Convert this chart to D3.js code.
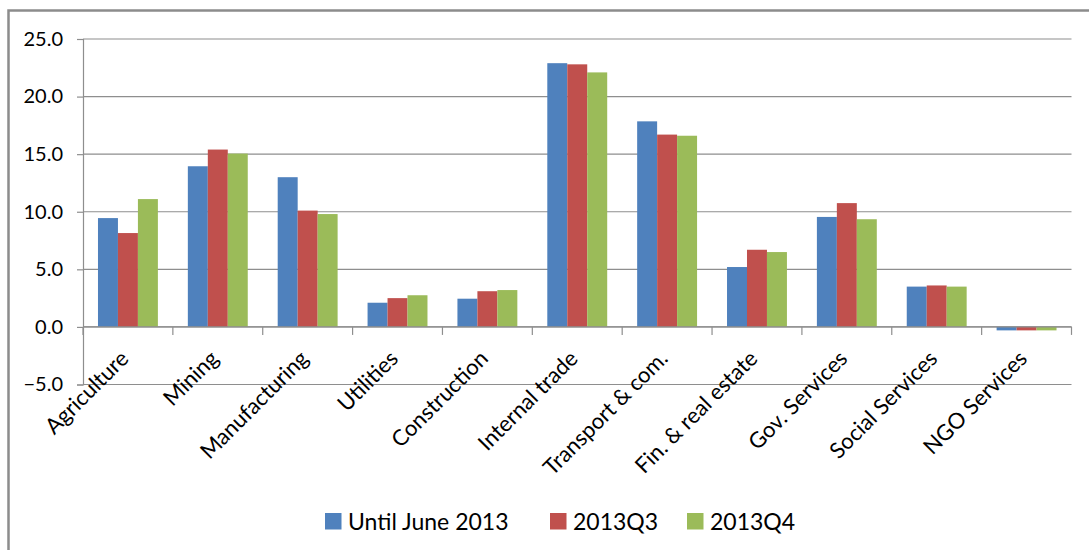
<!DOCTYPE html>
<html>
<head>
<meta charset="utf-8">
<script src="https://cdn.jsdelivr.net/npm/d3@7"></script>
<style>
  html, body { margin: 0; padding: 0; background: #fff; }
  svg { display: block; }
  text { font-family: Lato, "Open Sans", sans-serif; fill: #000; }
</style>
</head>
<body>
<svg id="chart" width="1089" height="550"></svg>
<script>
// Sector contributions by period
const categories = ["Agriculture", "Mining", "Manufacturing", "Utilities", "Construction",
  "Internal trade", "Transport & com.", "Fin. & real estate", "Gov. Services",
  "Social Services", "NGO Services"];
const seriesNames = ["Until June 2013", "2013Q3", "2013Q4"];
const untilJune2013 = [9.45, 13.95, 13.0, 2.1, 2.45, 22.9, 17.85, 5.2, 9.55, 3.5, -0.3];
const q3_2013 = [8.15, 15.4, 10.1, 2.5, 3.1, 22.8, 16.7, 6.7, 10.75, 3.6, -0.3];
const q4_2013 = [11.1, 15.05, 9.8, 2.75, 3.2, 22.1, 16.6, 6.5, 9.35, 3.5, -0.3];
const yTicks = [-5, 0, 5, 10, 15, 20, 25];
const colors = ["#4F81BD", "#C0504D", "#9BBB59"];

const seriesValues = [untilJune2013, q3_2013, q4_2013];
const rows = categories.map((c, i) => ({
  category: c,
  values: seriesNames.map((s, k) => ({ series: s, value: seriesValues[k][i] }))
}));

const svg = d3.select("#chart");
const plot = { left: 83, right: 1071.5, top: 39, bottom: 384.5 };

// Outer chart frame (runs off the right and bottom edges)
svg.append("rect")
  .attr("x", 8.5).attr("y", 10.5)
  .attr("width", 1200).attr("height", 700)
  .attr("fill", "none").attr("stroke", "#8c8c8c").attr("stroke-width", 2.5);

const x0 = d3.scaleBand().domain(categories).range([plot.left, plot.right]).padding(0);
const barW = x0.step() / 4.5;
const x1 = d3.scaleBand().domain(seriesNames).range([0.75 * barW, x0.step() - 0.75 * barW]).padding(0);
const y = d3.scaleLinear().domain([-5, 25]).range([plot.bottom, plot.top]);

// Horizontal gridlines
svg.append("g").selectAll("line").data(yTicks).join("line")
  .attr("x1", plot.left).attr("x2", plot.right)
  .attr("y1", d => y(d)).attr("y2", d => y(d))
  .attr("stroke", "#8e8e8e").attr("stroke-width", 1.2);

// Bars
svg.append("g").selectAll("g").data(rows).join("g")
  .attr("transform", d => `translate(${x0(d.category)},0)`)
  .selectAll("rect").data(d => d.values).join("rect")
  .attr("x", d => x1(d.series))
  .attr("width", x1.bandwidth())
  .attr("y", d => y(Math.max(0, d.value)))
  .attr("height", d => Math.abs(y(d.value) - y(0)))
  .attr("fill", (d, i) => colors[i]);

// Value axis
const yAxis = svg.append("g")
  .attr("transform", `translate(${plot.left},0)`)
  .call(d3.axisLeft(y).tickValues(yTicks).tickSize(6).tickPadding(14)
    .tickFormat(d3.format(".1f")));
yAxis.select(".domain").attr("stroke", "#8e8e8e").attr("stroke-width", 1.2);
yAxis.selectAll(".tick line").attr("stroke", "#8e8e8e").attr("stroke-width", 1.2);
yAxis.selectAll(".tick text").attr("font-size", 20).attr("font-family", "Lato, sans-serif").attr("fill", "#000");

// Category axis along zero
const y0 = y(0);
svg.append("line")
  .attr("x1", plot.left).attr("x2", plot.right)
  .attr("y1", y0).attr("y2", y0)
  .attr("stroke", "#8e8e8e").attr("stroke-width", 1.2);
const bounds = categories.map(c => x0(c)).concat([plot.right]);
svg.append("g").selectAll("line").data(bounds).join("line")
  .attr("x1", d => d).attr("x2", d => d)
  .attr("y1", y0).attr("y2", y0 + 8)
  .attr("stroke", "#8e8e8e").attr("stroke-width", 1.2);

// Rotated category labels
svg.append("g").selectAll("text").data(categories).join("text")
  .attr("transform", d => `translate(${x0(d) + x0.bandwidth() / 2 + 2},${y0 + 33}) rotate(-45)`)
  .attr("text-anchor", "end")
  .attr("font-size", 22)
  .text(d => d);

// Legend
const legendX = [325, 550, 687];
const legend = svg.append("g").selectAll("g").data(seriesNames).join("g")
  .attr("transform", (d, i) => `translate(${legendX[i]},513)`);
legend.append("rect").attr("width", 16.5).attr("height", 16.5).attr("fill", (d, i) => colors[i]);
legend.append("text").attr("x", 23).attr("y", 16.5).attr("font-size", 23).text(d => d);
</script>
</body>
</html>
